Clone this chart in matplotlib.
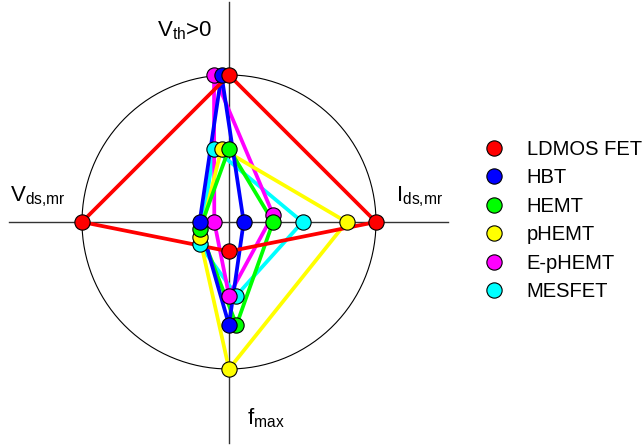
import matplotlib
matplotlib.use("Agg")
import matplotlib.pyplot as plt
import numpy as np

plt.rcParams["font.family"] = ["Liberation Sans", "DejaVu Sans"]
plt.rcParams["mathtext.fontset"] = "custom"
plt.rcParams["mathtext.rm"] = "Liberation Sans"
plt.rcParams["mathtext.it"] = "Liberation Sans:italic"

# Device technologies and their normalised scores on each of the four axes
devices = ["LDMOS FET", "HBT", "HEMT", "pHEMT", "E-pHEMT", "MESFET"]
colors = ["#ff0000", "#0000ff", "#00ff00", "#ffff00", "#ff00ff", "#00ffff"]
vth = [1.0, 1.0, 0.5, 0.5, 1.0, 0.5]      # up:    V_th > 0
ids = [1.0, 0.1, 0.3, 0.8, 0.3, 0.5]      # right: I_ds,mr
fmax = [0.2, 0.7, 0.7, 1.0, 0.5, 0.5]     # down:  f_max
vds = [1.0, 0.2, 0.2, 0.2, 0.1, 0.2]      # left:  V_ds,mr

# small sideways shifts (in marker steps) so coincident points stay visible
STEP = 0.051
shift_top = [0, -1, 0, -1, -2, -2]
shift_right = [0, 0, 0, 0, 1, 0]
shift_bottom = [0, 0, 1, 0, 0, 1]
shift_left = [0, 0, -1, -2, 0, -3]

fig = plt.figure(figsize=(6.43, 4.45), dpi=100)
ax = fig.add_axes([0, 0, 1, 1])
ax.set_xlim(-229 / 147, (643 - 229) / 147)
ax.set_ylim((222 - 445) / 147, 222 / 147)
ax.set_aspect("equal")
ax.axis("off")

# cross-hair axes and the unit circle
ax.plot([-1.50, 1.49], [0, 0], color="#333333", lw=1.0, zorder=1)
ax.plot([0, 0], [-1.50, 1.50], color="#333333", lw=1.0, zorder=1)
t = np.linspace(0, 2 * np.pi, 400)
ax.plot(np.cos(t), np.sin(t), color="black", lw=0.8, zorder=1)

for i in reversed(range(len(devices))):
    xs = [shift_top[i] * STEP, ids[i], shift_bottom[i] * STEP, -vds[i]]
    ys = [vth[i], shift_right[i] * STEP, -fmax[i], shift_left[i] * STEP]
    ax.plot(xs + xs[:1], ys + ys[:1], color=colors[i], lw=2.7,
            solid_joinstyle="miter", zorder=2)

handles = {}
for i in reversed(range(len(devices))):
    xs = [shift_top[i] * STEP, ids[i], shift_bottom[i] * STEP, -vds[i]]
    ys = [vth[i], shift_right[i] * STEP, -fmax[i], shift_left[i] * STEP]
    h, = ax.plot(xs, ys, "o", ms=11, mfc=colors[i], mec="black", mew=0.8,
                 ls="none", zorder=3, label=devices[i])
    handles[devices[i]] = h

ax.legend([handles[d] for d in devices], devices, loc="upper left",
          bbox_to_anchor=(0.752, 0.686), frameon=False, fontsize=14.5,
          handlelength=1.0, handletextpad=1.15, labelspacing=0.47,
          borderaxespad=0, borderpad=0)

lbl = dict(fontsize=16, ha="left", va="baseline")
ax.text(-0.49, 1.265, r"V$_{\mathrm{th}}$>0", **lbl)
ax.text(-1.49, 0.143, r"V$_{\mathrm{ds{,}mr}}$", **lbl)
ax.text(1.136, 0.139, r"I$_{\mathrm{ds{,}mr}}$", **lbl)
ax.text(0.122, -1.38, r"f$_{\mathrm{max}}$", **lbl)

fig.savefig("out.png", dpi=100)
